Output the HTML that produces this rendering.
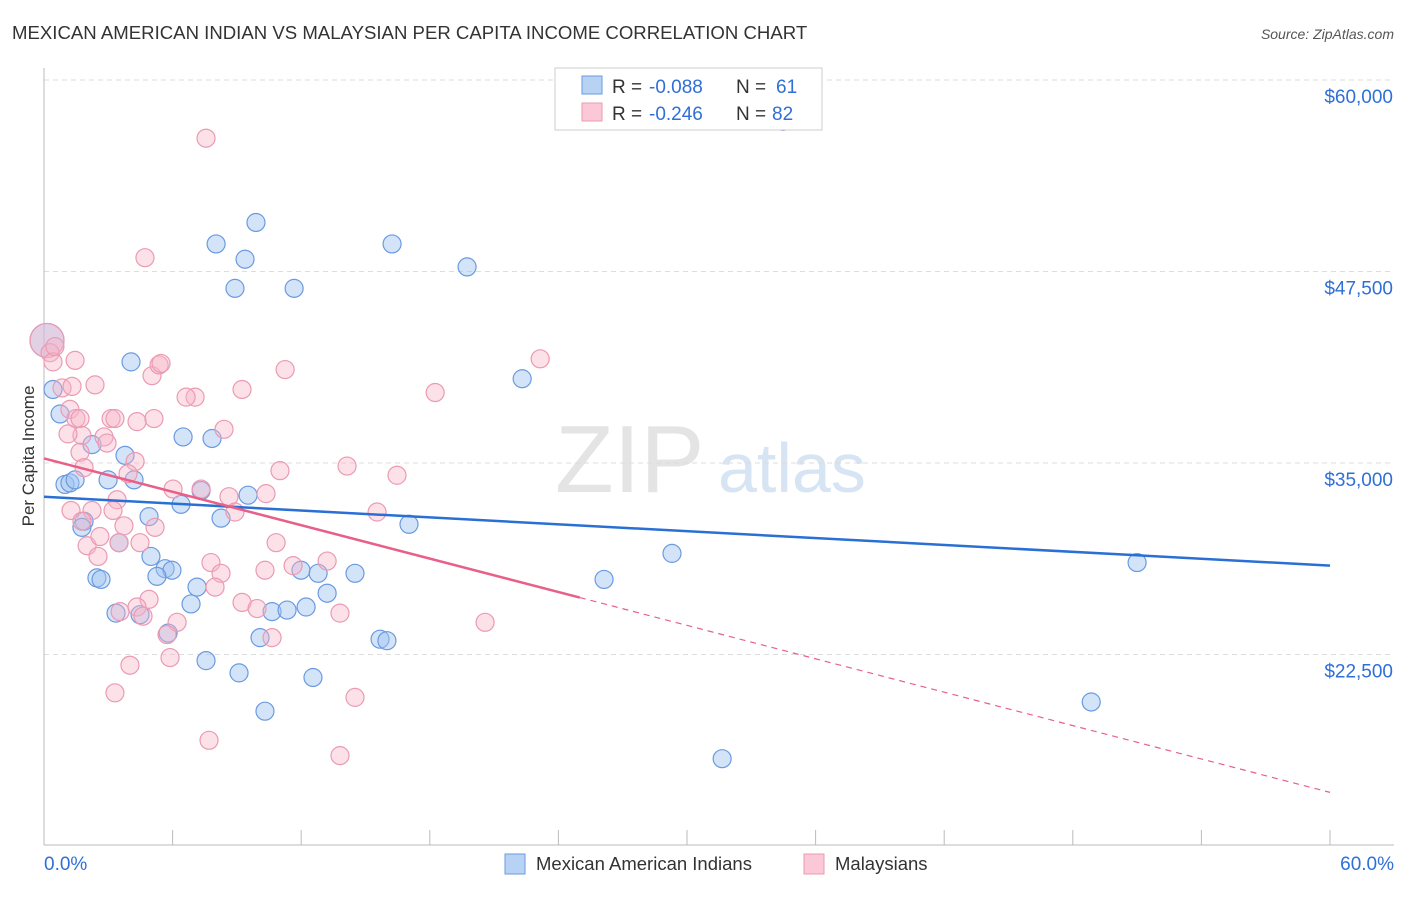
<!DOCTYPE html>
<html><head><meta charset="utf-8"><style>
body{margin:0;background:#fff;font-family:"Liberation Sans",sans-serif}
svg text{font-family:"Liberation Sans",sans-serif}
</style></head><body>
<svg width="1406" height="892" id="chart">
<text x="12" y="39" font-size="18.6" fill="#333">MEXICAN AMERICAN INDIAN VS MALAYSIAN PER CAPITA INCOME CORRELATION CHART</text>
<text x="1394" y="39" font-size="14" fill="#555" text-anchor="end" font-style="italic">Source: ZipAtlas.com</text>
<text x="555" y="492" font-size="96" fill="#e4e4e4" font-family="Liberation Serif">ZIP</text>
<text x="718" y="492" font-size="70" fill="#d6e4f4">atlas</text>
<text transform="translate(34,456) rotate(-90)" font-size="17" fill="#333" text-anchor="middle">Per Capita Income</text>
<g id="grid"></g><g id="marks"></g>
<g>
<rect x="555" y="68" width="267" height="62" fill="#fff" stroke="#ccc"/>
<rect x="582" y="76" width="20" height="18" fill="#b8d2f4" stroke="#6a9ae0"/>
<rect x="582" y="103" width="20" height="18" fill="#fac8d6" stroke="#eb9ab2"/>
<text x="612" y="93" font-size="19" fill="#333">R =</text>
<text x="649" y="93" font-size="19" fill="#2f6fd6">-0.088</text>
<text x="736" y="93" font-size="19" fill="#333">N =</text>
<text x="776" y="93" font-size="19" fill="#2f6fd6">61</text>
<text x="612" y="120" font-size="19" fill="#333">R =</text>
<text x="649" y="120" font-size="19" fill="#2f6fd6">-0.246</text>
<text x="736" y="120" font-size="19" fill="#333">N =</text>
<text x="772" y="120" font-size="19" fill="#2f6fd6">82</text>
</g>
<g>
<rect x="505" y="854" width="20" height="20" fill="#b8d2f4" stroke="#6a9ae0"/>
<text x="536" y="870" font-size="18.5" fill="#333">Mexican American Indians</text>
<rect x="804" y="854" width="20" height="20" fill="#fac8d6" stroke="#eb9ab2"/>
<text x="835" y="870" font-size="18.5" fill="#333">Malaysians</text>
</g>
</svg>
<script>
const yTicks=[60000,47500,35000,22500];
const xTickLabels=["0.0%","60.0%"];
const blueX=[0.14,0.42,0.75,4.06,2.24,3.78,0.98,1.21,1.45,2.99,4.2,1.87,1.77,3.5,4.9,6.39,7.33,8.26,9.52,4.99,5.65,5.97,5.27,2.47,2.66,3.36,4.48,6.86,7.14,5.79,7.56,9.1,10.31,10.08,10.64,11.34,12.23,13.21,11.99,12.79,14.51,15.68,16.0,12.55,6.49,7.84,8.03,9.38,9.89,8.91,11.67,16.24,19.74,22.31,17.03,26.13,29.3,34.48,51.0,48.86,31.64];
const blueY=[43000,39800,38200,41600,36200,35500,33600,33700,33900,33900,33900,31200,30800,29800,31500,32300,33200,31400,32900,28900,28100,28000,27600,27500,27400,25200,25100,25800,26900,23900,22100,21300,18800,23600,25300,25400,25600,26500,28000,27800,27800,23500,23400,21000,36700,36600,49300,48300,50700,46400,46400,49300,47800,40500,31000,27400,29100,57300,28500,19400,15700];
const pinkX=[0.14,0.28,0.42,0.51,1.45,0.84,1.31,2.38,1.21,1.49,1.68,3.13,3.31,5.13,4.34,1.77,1.12,2.8,2.94,1.68,4.25,3.92,1.87,3.41,1.26,2.24,3.22,7.05,6.63,5.04,5.37,5.46,9.24,8.4,11.25,18.25,23.15,4.71,7.56,11.01,14.14,16.47,7.33,6.02,8.63,10.36,8.91,15.54,1.77,3.73,5.18,2.01,2.61,2.52,3.5,4.48,10.83,7.79,8.26,10.31,11.62,13.21,4.9,3.55,4.34,4.62,6.21,9.24,7.98,9.94,13.81,10.64,5.74,5.88,4.01,3.31,14.51,7.7,13.81,20.58];
const pinkY=[43000,42200,41600,42600,41700,39900,40000,40100,38500,37900,37900,37900,37900,37900,37700,36800,36900,36700,36300,35700,35100,34300,34700,32600,31900,31900,31900,39300,39300,40700,41400,41500,39800,37200,41100,39600,41800,48400,56200,34500,34800,34200,33300,33300,32800,33000,31800,31800,31200,30900,30800,29600,30200,28900,29800,29800,29800,28500,27800,28000,28300,28600,26100,25300,25600,25000,24600,25900,26900,25500,25200,23600,23800,22300,21800,20000,19700,16900,15900,24600];
const blueTrend=[32800,28300];
const pinkTrend=[35300,13500];
const pinkSolidEnd=25;
const NS="http://www.w3.org/2000/svg";
const X=v=>44+v*1286/60, Y=v=>80+(60000-v)*191.5/12500;
function mk(tag,at,parent){const e=document.createElementNS(NS,tag);for(const k in at)e.setAttribute(k,at[k]);parent.appendChild(e);return e;}
const g=document.getElementById('grid'), m=document.getElementById('marks');
const fmt=v=>'$'+v.toLocaleString('en-US');
yTicks.forEach(t=>{
 const l=mk('line',{x1:44,x2:1394,y1:Y(t),y2:Y(t),stroke:'#ddd','stroke-dasharray':'5,4'},g);
 
 
 const tx=mk('text',{x:1393,y:Y(t)+23,'font-size':19,fill:'#2f6fd6','text-anchor':'end'},g);
 tx.textContent=fmt(t);
 
 
});
const ax=mk('line',{x1:44,x2:44,y1:68,y2:845,stroke:'#bbb'},g);


const bx=mk('line',{x1:44,x2:1394,y1:845,y2:845,stroke:'#bbb'},g);


for(let i=0;i<=10;i++){const t=mk('line',{x1:X(i*6),x2:X(i*6),y1:830,y2:845,stroke:'#bbb'},g);
 
 }
[[0,'start',44],[60,'end',1394]].forEach((d,i)=>{const t=mk('text',{x:d[2],y:870,'font-size':19,fill:'#2f6fd6','text-anchor':d[1]},g);t.textContent=xTickLabels[i];
 
 });
function pts(xs,ys,fill,stroke,name){xs.forEach((x,i)=>{const r=i===0?17:9;
 const c=mk('circle',{cx:X(x),cy:Y(ys[i]),r:r,fill:fill,stroke:stroke,'stroke-width':1.2},m);
 
 });}
pts(blueX,blueY,'rgba(160,196,240,0.45)','#6a9ae0','point-mexican-american-indian');
pts(pinkX,pinkY,'rgba(248,180,200,0.4)','#eb9ab2','point-malaysian');
const bl=mk('line',{x1:X(0),y1:Y(blueTrend[0]),x2:X(60),y2:Y(blueTrend[1]),stroke:'#2a6fd4','stroke-width':2.5},m);


const pAt=x=>pinkTrend[0]+(pinkTrend[1]-pinkTrend[0])*x/60;
const ps=mk('line',{x1:X(0),y1:Y(pinkTrend[0]),x2:X(pinkSolidEnd),y2:Y(pAt(pinkSolidEnd)),stroke:'#e8608a','stroke-width':2.5},m);


const pd=mk('line',{x1:X(pinkSolidEnd),y1:Y(pAt(pinkSolidEnd)),x2:X(60),y2:Y(pinkTrend[1]),stroke:'#e8608a','stroke-width':1.2,'stroke-dasharray':'6,5'},m);


</script>
</body></html>
